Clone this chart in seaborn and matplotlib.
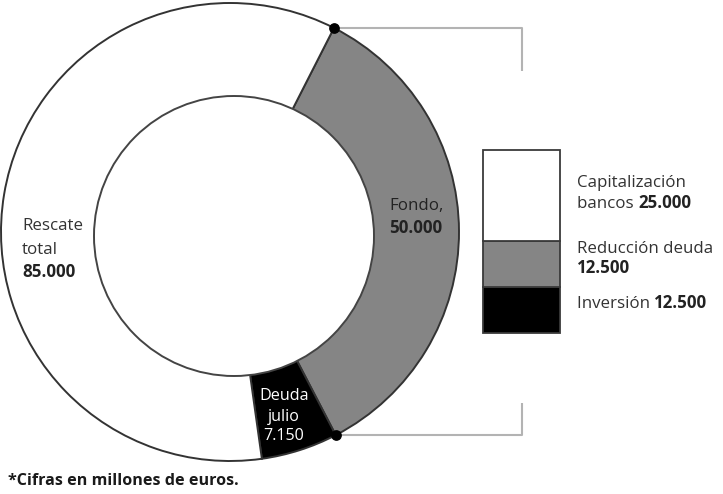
import matplotlib
matplotlib.use("Agg")
import matplotlib.pyplot as plt
import seaborn as sns
import numpy as np

# ring segments (label lines, value) -- drawn shares (deg)
ring_names = [["Rescate", "total"], ["Fondo,"], ["Deuda", "julio"]]
ring_values = ["85.000", "50.000", "7.150"]
ring_arc = [215, 125.5, 19.5]
ring_colors = ["white", "#858585", "black"]

# breakdown box on the right
box_names = ["Capitalización bancos", "Reducción deuda", "Inversión"]
box_values = [25000, 12500, 12500]
box_labels = ["25.000", "12.500", "12.500"]
box_colors = ["white", "#858585", "black"]

note = "*Cifras en millones de euros."

sns.set_theme(style="white")
plt.rcParams['font.family'] = ['Open Sans', 'DejaVu Sans']
TXT = '#333333'
FS = 12.2

fig = plt.figure(figsize=(7.23, 4.94), dpi=100)
ax = fig.add_axes([0, 0, 1, 1])

# donut: outer pie, then a slightly off-centre white hole
cx, cy, R = 230, 262, 229
order = [1, 2, 0]  # clockwise from the top-right dot: gray, black, white
wedges, _ = ax.pie([ring_arc[i] for i in order],
                   colors=[ring_colors[i] for i in order],
                   startangle=63, counterclock=False, center=(cx, cy), radius=R,
                   wedgeprops=dict(edgecolor='#333333', linewidth=1.4))
hole = plt.Circle((234, 258), 140, facecolor='white', edgecolor='#444444',
                  linewidth=1.4, zorder=3)
ax.add_patch(hole)

# dots at both ends of the gray segment + bracket lines to the box
g = wedges[0]
for ang, dy in [(g.theta2, -43), (g.theta1, 32)]:
    px = cx + R * np.cos(np.radians(ang))
    py = cy + R * np.sin(np.radians(ang))
    ax.plot([px, 522, 522], [py, py, py + dy], color='#b3b3b3', lw=1.5, zorder=2,
            solid_capstyle='butt')
    ax.scatter([px], [py], s=45, color='black', zorder=5)

ax.set_xlim(0, 723)
ax.set_ylim(0, 494)
ax.set_aspect('equal')
ax.axis('off')

# ring labels
ax.text(22, 264, ring_names[0][0], fontsize=FS, color=TXT, va='baseline')
ax.text(22, 240, ring_names[0][1], fontsize=FS, color=TXT, va='baseline')
ax.text(22, 217, ring_values[0], fontsize=FS, color='#222222', weight='bold', va='baseline')
ax.text(389, 284, ring_names[1][0], fontsize=FS, color='#222222', va='baseline', zorder=6)
ax.text(389, 261, ring_values[1], fontsize=FS, color='#222222', weight='bold', va='baseline', zorder=6)
for y, s in zip([94, 73, 54], ring_names[2] + [ring_values[2]]):
    ax.text(284, y, s, fontsize=FS - 0.6, color='white', ha='center', va='baseline', zorder=6)

# stacked box, bottom to top: Inversión, Reducción, Capitalización
ax2 = fig.add_axes([483 / 723, 161 / 494, 77 / 723, 183 / 494])
bottom = 0
for i in [2, 1, 0]:
    sns.barplot(x=[0], y=[box_values[i]], bottom=bottom, color=box_colors[i],
                saturation=1, width=1, errorbar=None, edgecolor='#3a3a3a',
                linewidth=1.3, clip_on=False, ax=ax2)
    bottom += box_values[i]
ax2.set_xlim(-0.5, 0.5)
ax2.set_ylim(0, sum(box_values))
ax2.axis('off')


def two_part(x, y, a, b):
    t = ax.text(x, y, a, fontsize=FS, color=TXT, va='baseline')
    ax.annotate(b, xy=(1, 0), xycoords=t, fontsize=FS, color='#222222',
                weight='bold', va='bottom')


cap1, cap2 = box_names[0].split(" ")
ax.text(577, 307, cap1, fontsize=FS, color=TXT, va='baseline')
two_part(577, 286, cap2 + " ", box_labels[0])
ax.text(577, 241, box_names[1], fontsize=FS, color=TXT, va='baseline')
ax.text(577, 221, box_labels[1], fontsize=FS, color='#222222', weight='bold', va='baseline')
two_part(577, 186, box_names[2] + " ", box_labels[2])

ax.text(8, 9, note, fontsize=11.6, weight='bold', color='#1a1a1a', va='baseline')

fig.savefig('out.png', dpi=100)
